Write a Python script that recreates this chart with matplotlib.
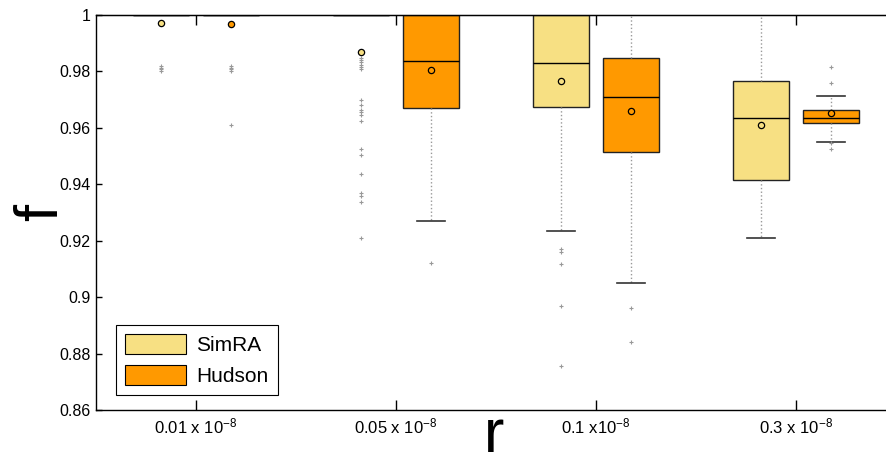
import matplotlib.pyplot as plt
from matplotlib.patches import Patch
from matplotlib.ticker import FormatStrFormatter

plt.rcParams['font.family'] = ['Liberation Sans', 'DejaVu Sans']
plt.rcParams['mathtext.fontset'] = 'custom'
plt.rcParams['mathtext.rm'] = 'Liberation Sans'
plt.rcParams['mathtext.it'] = 'Liberation Sans:italic'
plt.rcParams['mathtext.bf'] = 'Liberation Sans:bold'

# recombination rate groups
rates = ["0.01 x 10$^{-8}$", "0.05 x 10$^{-8}$", "0.1 x10$^{-8}$", "0.3 x 10$^{-8}$"]

# SimRA summary stats
simra_q1 = [1.0, 1.0, 0.9674, 0.9415]
simra_med = [1.0, 1.0, 0.9829, 0.9634]
simra_q3 = [1.0, 1.0, 1.0, 0.9765]
simra_lo = [1.0, 1.0, 0.9234, 0.9210]
simra_hi = [1.0, 1.0, 1.0, 1.0]
simra_mean = [0.9973, 0.9869, 0.9765, 0.9611]
simra_out = [
    [0.9819, 0.9813, 0.9807, 0.9801],
    [0.9849, 0.9840, 0.9832, 0.9824, 0.9816, 0.9808, 0.9699, 0.9680, 0.9663,
     0.9655, 0.9646, 0.9625, 0.9526, 0.9503, 0.9437, 0.9368, 0.9358, 0.9337, 0.9210],
    [0.9172, 0.9159, 0.9116, 0.8969, 0.8755],
    [],
]

# Hudson summary stats
hudson_q1 = [1.0, 0.9672, 0.9514, 0.9616]
hudson_med = [1.0, 0.9836, 0.9708, 0.9634]
hudson_q3 = [1.0, 1.0, 0.9847, 0.9663]
hudson_lo = [1.0, 0.9269, 0.9051, 0.9550]
hudson_hi = [1.0, 1.0, 1.0, 0.9714]
hudson_mean = [0.9968, 0.9806, 0.9661, 0.9652]
hudson_out = [
    [0.9819, 0.9813, 0.9807, 0.9801, 0.9610],
    [0.9121],
    [0.8960, 0.8841],
    [0.9816, 0.9759, 0.9545, 0.9524],
]

simra_color = '#f7e083'
hudson_color = '#ff9900'


def make_stats(q1, med, q3, lo, hi, mean, out):
    stats = []
    for i in range(len(q1)):
        stats.append(dict(q1=q1[i], med=med[i], q3=q3[i], whislo=lo[i],
                          whishi=hi[i], mean=mean[i], fliers=out[i]))
    return stats


fig = plt.figure(figsize=(8.86, 4.53), dpi=100)
ax = fig.add_axes([96 / 886, 43 / 453, 790 / 886, 395 / 453])

groups = [1, 2, 3, 4]
off = 0.175
series = [
    (make_stats(simra_q1, simra_med, simra_q3, simra_lo, simra_hi, simra_mean, simra_out),
     simra_color, -off),
    (make_stats(hudson_q1, hudson_med, hudson_q3, hudson_lo, hudson_hi, hudson_mean, hudson_out),
     hudson_color, off),
]

for stats, col, d in series:
    ax.bxp(stats, positions=[g + d for g in groups], widths=0.28, capwidths=0.14,
           showmeans=True, patch_artist=True,
           boxprops=dict(facecolor=col, edgecolor='#222222', linewidth=1.0),
           medianprops=dict(color='black', linewidth=1.0),
           whiskerprops=dict(color='#999999', linestyle=':', linewidth=1.0),
           capprops=dict(color='#333333', linewidth=1.2),
           meanprops=dict(marker='o', markerfacecolor=col, markeredgecolor='black',
                          markersize=4.5, markeredgewidth=0.9),
           flierprops=dict(marker='+', markeredgecolor='#999999', markersize=3,
                           markeredgewidth=0.8))

ax.set_xlim(0.5, 4.45)
ax.set_ylim(0.86, 1.0)
ax.set_yticks([0.86, 0.88, 0.90, 0.92, 0.94, 0.96, 0.98, 1.0])
ax.yaxis.set_major_formatter(FormatStrFormatter('%g'))
ax.set_xticks(groups)
ax.set_xticklabels(rates)
ax.tick_params(axis='both', direction='in', width=1.0, color='black')
ax.tick_params(axis='x', length=7, pad=5, labelsize=12)
ax.tick_params(axis='y', length=4, pad=4, labelsize=11.5)
ax.spines['right'].set_visible(False)
for s in ['left', 'bottom', 'top']:
    ax.spines[s].set_linewidth(1.0)

top = ax.secondary_xaxis('top')
top.set_xticks(groups)
top.set_xticklabels([])
top.tick_params(direction='in', length=7, width=1.0)

# big axis letters, placed in figure pixels
fig.text(494 / 886, 1 - 452 / 453, 'r', fontsize=44, ha='center', va='baseline')
fig.text(57 / 886, 1 - 213 / 453, 'f', fontsize=44, rotation=90,
         rotation_mode='anchor', ha='center', va='baseline')

handles = [Patch(facecolor=simra_color, edgecolor='black', linewidth=0.8, label='SimRA'),
           Patch(facecolor=hudson_color, edgecolor='black', linewidth=0.8, label='Hudson')]
leg = ax.legend(handles=handles, loc='lower left', bbox_to_anchor=(20 / 790, 15 / 395),
                fontsize=15, fancybox=False, edgecolor='black', framealpha=1,
                handlelength=2.9, handleheight=1.1, handletextpad=0.5,
                labelspacing=0.45, borderpad=0.45, borderaxespad=0)
leg.get_frame().set_linewidth(0.8)

fig.savefig('out.png', dpi=100)
